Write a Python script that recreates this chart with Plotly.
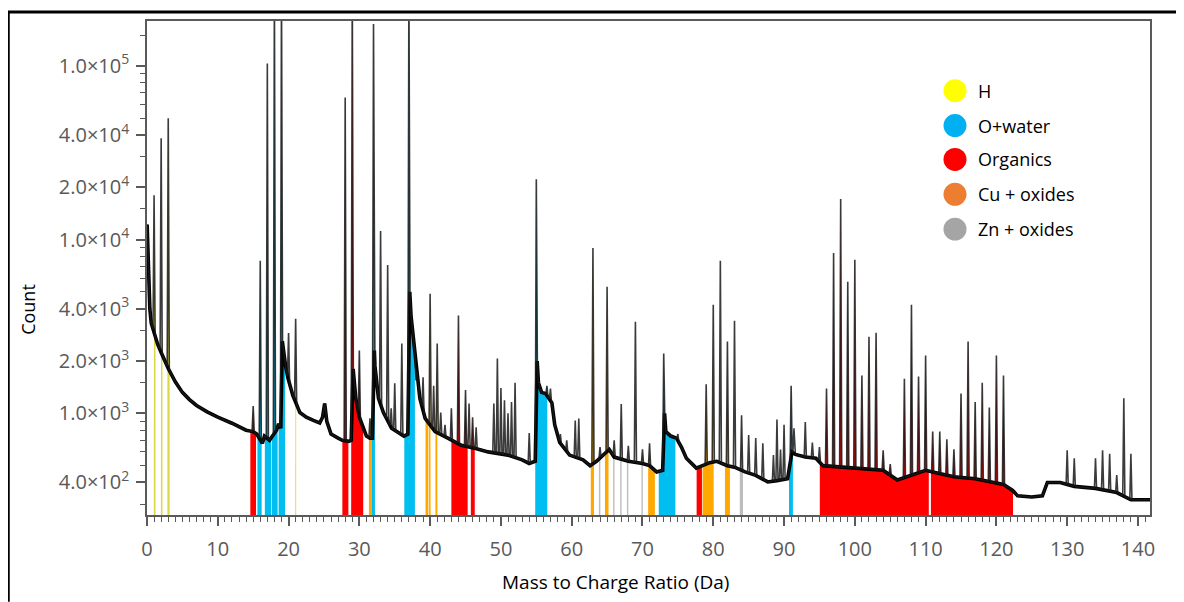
import numpy as np
import plotly.graph_objects as go

# ---------------- data ----------------
# continuum (background) of the mass spectrum: mass-to-charge (Da), count
bg_mass = [0.02, 0.2, 0.4, 0.6, 1.0, 1.5, 2.0, 2.5, 3.0, 4.0, 5.0, 6.0, 7.0, 8.5, 10.0,
           12.0, 14.0, 15.0, 15.5, 16.3, 16.6, 17.3, 17.6, 18.3, 18.6, 18.9, 19.12, 19.35,
           19.6, 19.9, 20.6, 21.6, 22.5, 23.5, 24.4, 24.8, 25.1, 25.4, 26.0, 27.0, 27.6,
           28.5, 28.85, 29.12, 29.5, 30.0, 30.6, 31.0, 31.5, 31.85, 32.12, 32.2, 32.7, 33.4,
           34.55, 35.5, 36.3, 36.85, 37.12, 37.3, 37.85, 38.55, 39.3, 40.7, 42.5, 44.4,
           46.3, 48.2, 51.0, 53.0, 54.0, 54.85, 55.12, 55.3, 55.75, 56.3, 57.2, 57.6, 58.3,
           59.7, 61.6, 62.6, 63.5, 65.3, 66.0, 68.0, 70.0, 71.0, 72.0, 72.85, 73.12, 73.3,
           74.0, 74.8, 75.5, 76.2, 77.6, 78.5, 79.5, 80.5, 82.0, 83.0, 84.5, 86.0, 87.7,
           89.0, 90.5, 91.12, 91.6, 93.0, 94.5, 95.5, 98.0, 101.0, 104.0, 106.0, 108.0,
           110.0, 111.0, 114.0, 117.0, 121.0, 122.3, 123.0, 125.0, 126.5, 127.2, 129.0,
           131.0, 134.0, 137.0, 139.0, 141.7]
bg_count = [12200, 6500, 4000, 3300, 2900, 2500, 2240, 2000, 1810, 1520, 1320, 1200, 1110,
            1020, 950, 877, 800, 785, 760, 673, 740, 700, 730, 800, 870, 820, 2600, 2150,
            1850, 1600, 1270, 1010, 950, 910, 880, 950, 1140, 900, 760, 720, 700, 690, 700,
            1800, 1220, 950, 800, 740, 720, 720, 2300, 1880, 1220, 1010, 820, 770, 740, 760,
            5000, 3640, 2240, 1220, 935, 785, 720, 655, 630, 600, 575, 540, 515, 530, 2000,
            1500, 1320, 1300, 1150, 860, 680, 575, 540, 500, 530, 620, 560, 530, 515, 500,
            460, 470, 1000, 785, 740, 720, 640, 552, 484, 500, 520, 530, 500, 490, 460, 440,
            403, 410, 420, 600, 580, 560, 552, 500, 490, 484, 470, 413, 440, 470, 460, 432,
            420, 390, 360, 335, 330, 335, 400, 400, 380, 370, 350, 318, 318]

# discrete peaks: position (Da) and apex count
peak_mass = [1.0, 2.0, 3.0, 15.0, 16.0, 17.0, 18.0, 19.0, 20.0, 21.0, 28.0, 29.0, 30.0,
             31.5, 32.0, 33.0, 34.0, 34.5, 35.0, 36.0, 37.0, 38.0, 39.0, 40.0, 40.5, 41.0,
             41.5, 42.1, 43.0, 44.0, 45.0, 45.5, 46.0, 46.5, 49.0, 49.5, 50.0, 50.5, 51.0,
             51.5, 52.0, 54.0, 55.0, 56.5, 57.0, 58.4, 59.3, 60.5, 61.0, 63.0, 64.0, 65.0,
             66.0, 67.0, 68.0, 69.0, 70.0, 71.0, 73.0, 75.0, 79.0, 80.0, 81.0, 82.0, 83.0,
             84.0, 85.0, 86.0, 87.0, 88.5, 89.0, 89.5, 90.0, 91.0, 91.4, 93.0, 94.0, 95.0,
             96.0, 97.0, 98.0, 99.0, 100.0, 101.0, 102.0, 103.0, 104.0, 105.0, 107.0, 108.0,
             109.0, 110.0, 111.0, 112.0, 113.0, 114.0, 115.0, 116.0, 117.0, 118.0, 119.0,
             120.0, 121.0, 130.0, 131.0, 134.0, 135.0, 136.0, 137.0, 138.0, 139.0]
peak_count = [18000, 38300, 49900, 1100, 7540, 103000, 300000, 300000, 2900, 3500, 65600,
              300000, 2300, 935, 174000, 11200, 7140, 1070, 1490, 2520, 300000, 1545, 1610,
              4880, 1440, 2520, 1010, 860, 1070, 3650, 1360, 1140, 950, 830, 1140, 2070, 1400,
              1190, 1000, 1160, 1500, 770, 22200, 1440, 1390, 760, 700, 910, 935, 8940, 640,
              5350, 700, 1130, 650, 3370, 620, 673, 2210, 760, 1470, 4220, 7540, 2590, 3410,
              975, 750, 720, 673, 575, 922, 620, 860, 1440, 820, 890, 680, 640, 1390, 8380,
              17100, 5710, 7640, 1650, 2760, 2910, 613, 510, 1580, 4220, 1630, 2150, 785, 785,
              710, 622, 1300, 2590, 1160, 1500, 1080, 2150, 1650, 613, 552, 552, 613, 586, 442,
              1220, 586]

# ranged ion windows (Da)
h_ranges = [(0.9, 1.2), (1.92, 2.18), (2.88, 3.2)]
o_ranges = [(15.6, 16.2), (16.65, 17.55), (17.65, 18.45), (18.55, 19.5), (31.7, 32.2),
            (36.35, 37.85), (54.8, 56.55), (72.3, 74.65), (90.7, 91.25)]
org_ranges = [(14.6, 15.4), (27.6, 28.45), (28.8, 30.55), (43.0, 45.3), (45.75, 46.3),
              (77.65, 78.4), (95.05, 110.45), (110.75, 122.35)]
cu_ranges = [(20.93, 21.07), (31.35, 31.7), (39.35, 39.75), (39.85, 40.2), (40.75, 41.1),
             (62.7, 63.15), (64.7, 65.2), (70.8, 71.75), (78.45, 80.2), (81.65, 82.35)]
zn_ranges = [(63.8, 64.05), (65.85, 66.05), (66.85, 67.05), (67.8, 68.0), (69.85, 70.05),
             (83.75, 84.2)]

legend_labels = ["H", "O+water", "Organics", "Cu + oxides", "Zn + oxides"]
legend_colors = ["#FFFF00", "#00B0F0", "#FF0000", "#ED7D31", "#A5A5A5"]
fill_colors = ["#DCD845", "#00BEF0", "#FF0000", "#FFA800", "#BDBDBD"]
all_ranges = [h_ranges, o_ranges, org_ranges, cu_ranges, zn_ranges]

y_major_vals = [400, 1000, 2000, 4000, 10000, 20000, 40000, 100000]
y_major_text = ["4.0×10<sup>2</sup>", "1.0×10<sup>3</sup>", "2.0×10<sup>3</sup>",
                "4.0×10<sup>3</sup>", "1.0×10<sup>4</sup>", "2.0×10<sup>4</sup>",
                "4.0×10<sup>4</sup>", "1.0×10<sup>5</sup>"]
y_minor_vals = [300, 500, 600, 700, 800, 900, 1500, 3000, 5000, 6000, 7000, 8000, 9000,
                15000, 30000, 50000, 60000, 70000, 80000, 90000, 150000]

# ---------------- build spectrum polyline ----------------
bgx = np.array(bg_mass, float)
bgy = np.array(bg_count, float)
lbg = np.log10(bgy)
hw = 0.15
keep = np.ones(len(bgx), bool)
for p in peak_mass:
    keep &= ~((bgx > p - hw) & (bgx < p + hw))
pts = list(zip(bgx[keep], bgy[keep]))
for p, h in zip(peak_mass, peak_count):
    for xx in (p - hw, p + hw):
        pts.append((xx, 10 ** np.interp(xx, bgx, lbg)))
    pts.append((p, h))
pts.sort(key=lambda t: t[0])
sx = np.array([t[0] for t in pts])
sy = np.array([t[1] for t in pts])
lsy = np.log10(sy)

fig = go.Figure()

# coloured ranged windows, filled from the axis floor up to the spectrum
for ranges, col in zip(all_ranges, fill_colors):
    for a, b in ranges:
        inside = (sx > a) & (sx < b)
        xs = np.concatenate([[a, a], sx[inside], [b, b]])
        ys = np.concatenate([[1.0, 10 ** np.interp(a, sx, lsy)], sy[inside],
                             [10 ** np.interp(b, sx, lsy), 1.0]])
        fig.add_trace(go.Scatter(x=xs, y=ys, mode="lines", fill="toself",
                                 fillcolor=col, line=dict(width=0, color=col),
                                 hoverinfo="skip", showlegend=False))

# noisy continuum (thick) and full spectrum with peaks (thin)
fig.add_trace(go.Scatter(x=bgx, y=bgy, mode="lines",
                         line=dict(color="black", width=3.6), showlegend=False))
fig.add_trace(go.Scatter(x=sx, y=sy, mode="lines",
                         line=dict(color="rgba(25,25,25,0.85)", width=1.6),
                         showlegend=False))

# ---------------- layout ----------------
# the page body adds an 8 px offset, so the figure is 8 px smaller on each axis
OFF = 8
W, H = 1184 - OFF, 602 - OFF
L, R, T, B = 147 - OFF, 1150 - OFF, 19 - OFF, 515 - OFF


def px2x(px):
    return (px - OFF - L) / (R - L)


def py2y(py):
    return (B - (py - OFF)) / (B - T)


shapes = []
# outer frame (top and left) of the original figure
shapes.append(dict(type="line", xref="paper", yref="paper", x0=px2x(7), x1=px2x(1184),
                   y0=py2y(10), y1=py2y(10), line=dict(color="black", width=3)))
shapes.append(dict(type="line", xref="paper", yref="paper", x0=px2x(8.5), x1=px2x(8.5),
                   y0=py2y(9), y1=py2y(602), line=dict(color="black", width=2.5)))

annotations = []
leg_y = [89, 124, 158, 193, 228]
for lab, col, cy in zip(legend_labels, legend_colors, leg_y):
    r = 11.5
    shapes.append(dict(type="circle", xref="paper", yref="paper",
                       x0=px2x(955 - r), x1=px2x(955 + r), y0=py2y(cy + r), y1=py2y(cy - r),
                       fillcolor=col, line=dict(width=0)))
    annotations.append(dict(text=lab, xref="paper", yref="paper", x=px2x(976), y=py2y(cy),
                            xanchor="left", yanchor="middle", showarrow=False,
                            font=dict(size=18, color="black", family="Open Sans")))

annotations.append(dict(text="Mass to Charge Ratio (Da)", xref="paper", yref="paper",
                        x=px2x(615), y=py2y(582), xanchor="center", yanchor="middle",
                        showarrow=False, font=dict(size=19, color="black", family="Open Sans")))
annotations.append(dict(text="Count", xref="paper", yref="paper", x=px2x(28), y=py2y(309),
                        xanchor="center", yanchor="middle", textangle=-90, showarrow=False,
                        font=dict(size=18, color="black", family="Open Sans")))

axcol = "#5a5a5a"
fig.update_layout(
    width=W, height=H,
    margin=dict(l=L, r=W - R, t=T, b=H - B, pad=0),
    paper_bgcolor="white", plot_bgcolor="white",
    showlegend=False,
    font=dict(family="Open Sans", color="#595959"),
    shapes=shapes, annotations=annotations,
    xaxis=dict(range=[0, 141.7], tickmode="linear", tick0=0, dtick=10,
               ticks="outside", ticklen=9, tickwidth=1.5, tickcolor=axcol,
               minor=dict(ticks="outside", dtick=1, ticklen=5, tickwidth=1.2, tickcolor=axcol),
               showline=True, linecolor=axcol, linewidth=1.5, mirror=True,
               showgrid=False, zeroline=False,
               tickfont=dict(size=20, color="#595959"), ticklabelstandoff=6),
    yaxis=dict(type="log", range=[np.log10(260), np.log10(181000)],
               tickmode="array", tickvals=y_major_vals, ticktext=y_major_text,
               ticks="outside", ticklen=9, tickwidth=1.5, tickcolor=axcol,
               minor=dict(ticks="outside", tickmode="array", tickvals=y_minor_vals,
                          ticklen=5, tickwidth=1.2, tickcolor=axcol),
               showline=True, linecolor=axcol, linewidth=1.5, mirror=True,
               showgrid=False, zeroline=False,
               tickfont=dict(size=20, color="#595959"), ticklabelstandoff=3),
)

fig.write_html("out.html")
